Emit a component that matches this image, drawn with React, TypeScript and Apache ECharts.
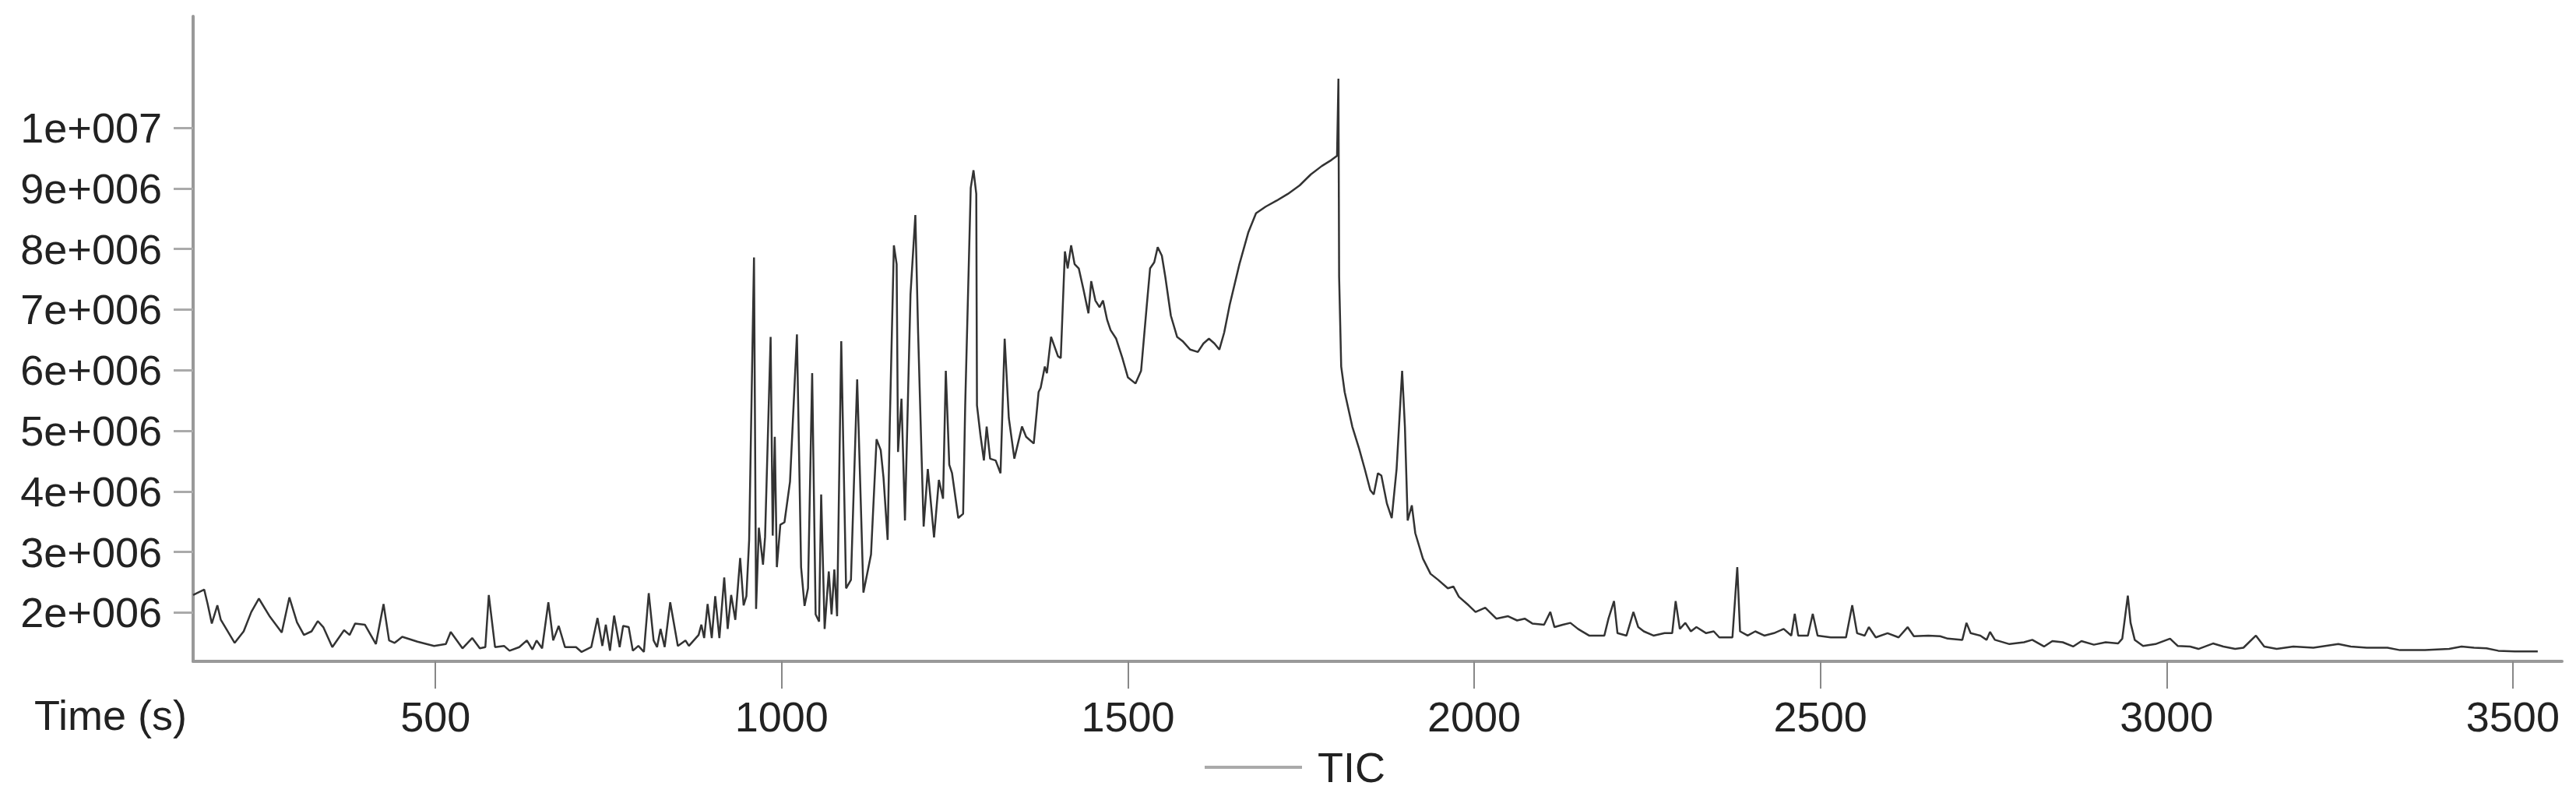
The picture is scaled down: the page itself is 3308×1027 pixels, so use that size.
import React, { useEffect, useRef } from "react";
import * as echarts from "echarts";

const timeSec = [
  150, 166, 171, 177, 185, 190, 210, 223, 234, 245, 261, 278, 289, 300, 310, 321, 330, 338, 351, 368,
  376, 384, 398, 414, 425, 433, 441, 452, 474, 498, 515, 522, 539, 553, 564, 572, 577, 586, 599, 607,
  621, 632, 640, 646, 654, 663, 670, 678, 687, 703, 711, 725, 734, 741, 746, 752, 758, 766, 771, 779,
  785, 793, 801, 808, 815, 820, 825, 831, 839, 850, 861, 866, 880, 884, 888, 893, 899, 904, 910, 917,
  922, 927, 933, 940, 945, 949, 953, 960, 963, 967, 973, 976, 984, 987, 990, 993, 998, 1004, 1012, 1022,
  1028, 1033, 1038, 1044, 1049, 1054, 1057, 1062, 1068, 1072, 1076, 1080, 1086, 1093, 1100, 1109, 1118, 1129, 1137, 1143,
  1147, 1153, 1156, 1162, 1166, 1168, 1173, 1178, 1186, 1193, 1197, 1202, 1205, 1211, 1220, 1227, 1233, 1237, 1242, 1246,
  1255, 1262, 1265, 1273, 1277, 1281, 1282, 1287, 1292, 1296, 1301, 1309, 1316, 1322, 1328, 1336, 1347, 1353, 1364, 1371,
  1374, 1380, 1383, 1389, 1399, 1403, 1409, 1413, 1418, 1423, 1429, 1436, 1443, 1447, 1453, 1459, 1464, 1470, 1475, 1483,
  1492, 1500, 1511, 1519, 1527, 1532, 1538, 1543, 1549, 1554, 1562, 1571, 1579, 1590, 1601, 1609, 1617, 1625, 1632, 1639,
  1647, 1661, 1674, 1685, 1699, 1715, 1731, 1748, 1764, 1780, 1794, 1802, 1804, 1805, 1808, 1813, 1824, 1834, 1842, 1850,
  1855, 1861, 1866, 1874, 1881, 1888, 1892, 1896, 1900, 1904, 1910, 1915, 1926, 1937, 1948, 1962, 1970, 1978, 1992, 2002,
  2016, 2032, 2049, 2062, 2073, 2084, 2101, 2110, 2116, 2128, 2139, 2150, 2166, 2188, 2194, 2202, 2207, 2220, 2230, 2237,
  2245, 2259, 2275, 2286, 2291, 2297, 2305, 2313, 2321, 2335, 2346, 2354, 2373, 2380, 2384, 2395, 2406, 2419, 2433, 2447,
  2458, 2463, 2468, 2482, 2489, 2496, 2515, 2537, 2546, 2553, 2564, 2570, 2580, 2597, 2613, 2626, 2635, 2656, 2673, 2684,
  2705, 2711, 2717, 2731, 2740, 2745, 2752, 2773, 2794, 2806, 2823, 2835, 2850, 2865, 2877, 2895, 2912, 2930, 2936, 2944,
  2948, 2954, 2966, 2984, 3005, 3016, 3034, 3046, 3067, 3082, 3099, 3111, 3129, 3141, 3159, 3183, 3212, 3248, 3266, 3289,
  3319, 3337, 3373, 3408, 3426, 3444, 3462, 3479, 3503, 3536,
];

const ticMillions = [
  2.29, 2.38, 2.14, 1.82, 2.12, 1.88, 1.5, 1.69, 2.01, 2.23, 1.93, 1.67, 2.25, 1.84, 1.63, 1.69, 1.86, 1.76, 1.43, 1.71,
  1.63, 1.82, 1.8, 1.48, 2.14, 1.54, 1.5, 1.6, 1.52, 1.45, 1.48, 1.68, 1.41, 1.58, 1.41, 1.43, 2.29, 1.43, 1.45, 1.37,
  1.43, 1.54, 1.39, 1.54, 1.41, 2.17, 1.54, 1.78, 1.43, 1.43, 1.35, 1.43, 1.91, 1.45, 1.8, 1.37, 1.95, 1.43, 1.78, 1.76,
  1.37, 1.45, 1.35, 2.32, 1.54, 1.43, 1.73, 1.43, 2.17, 1.45, 1.54, 1.45, 1.63, 1.8, 1.58, 2.14, 1.58, 2.27, 1.58, 2.58,
  1.73, 2.29, 1.88, 2.9, 2.12, 2.27, 3.2, 7.86, 2.06, 3.4, 2.79, 3.25, 6.55, 3.27, 4.9, 2.75, 3.45, 3.49, 4.16, 6.59,
  2.75, 2.11, 2.4, 5.95, 1.97, 1.85, 3.95, 1.73, 2.68, 1.97, 2.71, 1.94, 6.48, 2.4, 2.54, 5.85, 2.33, 2.96, 4.86, 4.68,
  4.23, 3.2, 5.07, 8.06, 7.75, 4.65, 5.53, 3.52, 7.25, 8.56, 6.62, 4.58, 3.42, 4.37, 3.24, 4.19, 3.88, 5.99, 4.44, 4.3,
  3.56, 3.63, 5.42, 9.01, 9.3, 8.91, 5.42, 4.93, 4.51, 5.07, 4.54, 4.51, 4.3, 6.52, 5.21, 4.54, 5.07, 4.9, 4.79, 5.64,
  5.71, 6.06, 5.95, 6.55, 6.23, 6.2, 7.96, 7.68, 8.06, 7.75, 7.68, 7.32, 6.94, 7.47, 7.15, 7.04, 7.15, 6.83, 6.66, 6.52,
  6.2, 5.88, 5.78, 5.99, 7.04, 7.68, 7.78, 8.03, 7.89, 7.54, 6.9, 6.55, 6.48, 6.34, 6.3, 6.44, 6.52, 6.44, 6.34, 6.62,
  7.08, 7.75, 8.28, 8.59, 8.7, 8.8, 8.91, 9.05, 9.23, 9.37, 9.47, 9.54, 10.81, 7.54, 6.06, 5.64, 5.07, 4.7, 4.37, 4.02,
  3.95, 4.3, 4.26, 3.8, 3.56, 4.37, 5.18, 5.99, 5.07, 3.52, 3.77, 3.31, 2.89, 2.64, 2.54, 2.4, 2.43, 2.26, 2.12, 2.01,
  2.08, 1.9, 1.94, 1.87, 1.9, 1.82, 1.8, 2.01, 1.76, 1.8, 1.83, 1.73, 1.62, 1.62, 1.9, 2.19, 1.66, 1.62, 2.01, 1.76,
  1.69, 1.62, 1.66, 1.66, 2.19, 1.73, 1.83, 1.69, 1.76, 1.66, 1.69, 1.59, 1.59, 2.75, 1.69, 1.62, 1.69, 1.62, 1.66, 1.73,
  1.62, 1.98, 1.62, 1.62, 1.98, 1.62, 1.59, 1.59, 2.12, 1.66, 1.62, 1.76, 1.59, 1.66, 1.59, 1.76, 1.61, 1.62, 1.61, 1.57,
  1.55, 1.83, 1.66, 1.62, 1.55, 1.68, 1.55, 1.48, 1.51, 1.55, 1.44, 1.53, 1.51, 1.44, 1.53, 1.47, 1.51, 1.49, 1.57, 2.28,
  1.83, 1.55, 1.45, 1.48, 1.57, 1.45, 1.44, 1.4, 1.49, 1.44, 1.4, 1.42, 1.62, 1.44, 1.4, 1.44, 1.42, 1.48, 1.44, 1.42,
  1.42, 1.38, 1.38, 1.4, 1.44, 1.42, 1.41, 1.37, 1.36, 1.36,
];

const xTickValues = [500, 1000, 1500, 2000, 2500, 3000, 3500];
const yTickValues = [2e6, 3e6, 4e6, 5e6, 6e6, 7e6, 8e6, 9e6, 1e7];
const yTickLabels = ["2e+006", "3e+006", "4e+006", "5e+006", "6e+006", "7e+006", "8e+006", "9e+006", "1e+007"];

const FONT = '"Liberation Sans", Arial, sans-serif';

export default function App() {
  const ref = useRef<HTMLDivElement>(null);
  useEffect(() => {
    if (!ref.current) return;
    const chart = echarts.init(ref.current, undefined, { renderer: "svg" });
    const data = timeSec.map((t, i) => [t, ticMillions[i] * 1e6]);
    const labelMap: Record<string, string> = {};
    yTickValues.forEach((v, i) => (labelMap[String(v)] = yTickLabels[i]));
    chart.setOption({
      animation: false,
      backgroundColor: "#ffffff",
      grid: { left: 248, right: 18, top: 21, bottom: 178 },
      legend: {
        data: ["TIC"],
        left: 1547,
        top: 958,
        padding: 0,
        icon: "rect",
        itemWidth: 125,
        itemHeight: 4,
        itemStyle: { color: "#aaaaaa" },
        textStyle: { fontSize: 54, fontFamily: FONT, color: "#222", padding: [0, 0, 0, 15] },
      },
      graphic: [
        {
          type: "text",
          x: 142,
          y: 918,
          style: {
            text: "Time (s)",
            fontSize: 54,
            fontFamily: FONT,
            fill: "#222",
            align: "center",
            verticalAlign: "middle",
          },
        },
      ],
      xAxis: {
        type: "value",
        min: 150,
        max: 3571,
        axisLine: { show: true, onZero: false, lineStyle: { color: "#999", width: 4 } },
        axisTick: { show: true, customValues: xTickValues, length: 35, lineStyle: { color: "#888", width: 2 } },
        axisLabel: {
          customValues: xTickValues,
          margin: 44,
          fontSize: 54,
          fontFamily: FONT,
          color: "#222",
          formatter: (v: number) => String(v),
        },
        splitLine: { show: false },
      },
      yAxis: {
        type: "value",
        min: 1.195e6,
        max: 11.84e6,
        axisLine: { show: true, onZero: false, lineStyle: { color: "#999", width: 4 } },
        axisTick: { show: true, customValues: yTickValues, length: 25, lineStyle: { color: "#aaa", width: 3 } },
        axisLabel: {
          customValues: yTickValues,
          margin: 40,
          fontSize: 54,
          fontFamily: FONT,
          color: "#222",
          padding: [8, 0, 0, 0],
          formatter: (v: number) => labelMap[String(v)] ?? String(v),
        },
        splitLine: { show: false },
      },
      series: [
        {
          name: "TIC",
          type: "line",
          data,
          showSymbol: false,
          symbol: "none",
          lineStyle: { color: "#333", width: 2.5 },
          itemStyle: { color: "#333" },
        },
      ],
    });
    return () => chart.dispose();
  }, []);
  return (
    <div
      ref={ref}
      style={{ position: "fixed", left: 0, top: 0, width: 3308, height: 1027, background: "#fff" }}
    />
  );
}
